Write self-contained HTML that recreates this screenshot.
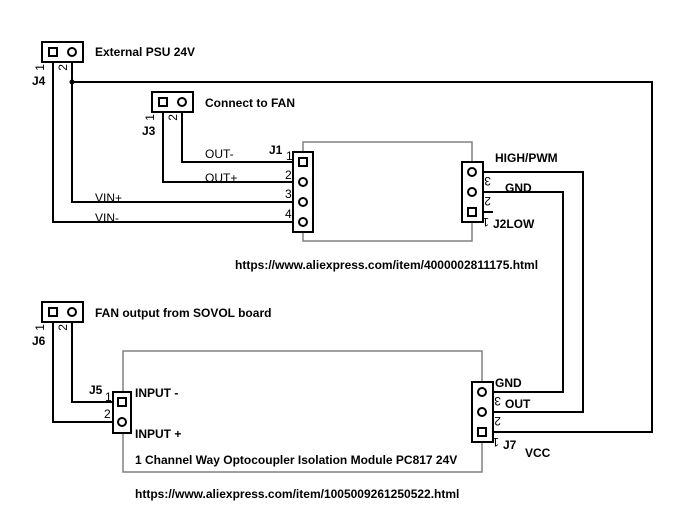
<!DOCTYPE html>
<html><head><meta charset="utf-8"><style>
body{margin:0;background:#fff}
svg{display:block}
text{font-family:"Liberation Sans",Arial,sans-serif;font-size:12px;fill:#000}
.b{font-weight:bold}
</style></head><body>
<svg width="676" height="519" viewBox="0 0 676 519" xmlns="http://www.w3.org/2000/svg">
<g fill="none" stroke="#808080" stroke-width="1.5">
<rect x="303" y="142" width="169" height="99"/>
<rect x="123" y="351" width="359" height="121"/>
</g>
<g fill="none" stroke="#000" stroke-width="2">
<polyline points="53,52 53,222 303,222"/>
<polyline points="72,52 72,202 303,202"/>
<polyline points="72,82 652,82 652,432 482,432"/>
<polyline points="182,102 182,162 303,162"/>
<polyline points="163,102 163,182 303,182"/>
<polyline points="472,172 583,172 583,412 482,412"/>
<polyline points="472,192 563,192 563,392 482,392"/>
<line x1="472" y1="212" x2="493" y2="212"/>
<polyline points="72,312 72,402 122,402"/>
<polyline points="53,312 53,422 122,422"/>
</g>
<g fill="#fff" stroke="#000" stroke-width="2">
<rect x="42" y="42" width="41" height="20"/>
<rect x="152" y="92" width="41" height="20"/>
<rect x="42" y="302" width="41" height="20"/>
<rect x="293" y="152" width="20" height="80"/>
<rect x="462" y="162" width="21" height="60"/>
<rect x="113" y="392" width="18" height="41"/>
<rect x="472" y="382" width="21" height="60"/>
<rect x="49" y="48" width="8" height="8"/><circle cx="72" cy="52" r="4"/>
<rect x="159" y="98" width="8" height="8"/><circle cx="182" cy="102" r="4"/>
<rect x="49" y="308" width="8" height="8"/><circle cx="72" cy="312" r="4"/>
<rect x="299" y="158" width="8" height="8"/><circle cx="303" cy="182" r="4"/><circle cx="303" cy="202" r="4"/><circle cx="303" cy="222" r="4"/>
<circle cx="472" cy="172" r="4"/><circle cx="472" cy="192" r="4"/><rect x="468" y="208" width="8" height="8"/>
<rect x="118" y="398" width="8" height="8"/><circle cx="122" cy="422" r="4"/>
<circle cx="482" cy="392" r="4"/><circle cx="482" cy="412" r="4"/><rect x="478" y="428" width="8" height="8"/>
</g>
<circle cx="72" cy="82" r="2.5" fill="#000"/>
<g>
<text x="95" y="56" class="b">External PSU 24V</text>
<text x="205" y="107" class="b">Connect to FAN</text>
<text x="32" y="85" class="b">J4</text>
<text x="142" y="135" class="b">J3</text>
<text x="32" y="345" class="b">J6</text>
<text x="95" y="317" class="b">FAN output from SOVOL board</text>
<text x="205" y="158">OUT-</text>
<text x="205" y="182">OUT+</text>
<text x="95" y="202">VIN+</text>
<text x="95" y="222">VIN-</text>
<text x="269" y="154" class="b">J1</text>
<text x="286" y="160" font-size="11">1</text>
<text x="285" y="179">2</text>
<text x="285" y="198">3</text>
<text x="285" y="218">4</text>
<text x="235" y="269" class="b">https://www.aliexpress.com/item/4000002811175.html</text>
<text x="495" y="162" class="b">HIGH/PWM</text>
<text x="505" y="192" class="b">GND</text>
<text x="493" y="228" class="b">J2LOW</text>
<text x="89" y="394" class="b">J5</text>
<text x="105" y="401" font-size="11">1</text>
<text x="104" y="418">2</text>
<text x="135" y="397" class="b">INPUT -</text>
<text x="135" y="438" class="b">INPUT +</text>
<text x="495" y="387" class="b">GND</text>
<text x="505" y="408" class="b">OUT</text>
<text x="503" y="449" class="b">J7</text>
<text x="525" y="457" class="b">VCC</text>
<text x="135" y="464" class="b">1 Channel Way Optocoupler Isolation Module PC817 24V</text>
<text x="135" y="498" class="b">https://www.aliexpress.com/item/1005009261250522.html</text>
</g>
<g font-size="10">
<text transform="translate(44,64) rotate(-90)" text-anchor="end">1</text>
<text transform="translate(67,64) rotate(-90)" text-anchor="end">2</text>
<text transform="translate(154,114) rotate(-90)" text-anchor="end">1</text>
<text transform="translate(177,114) rotate(-90)" text-anchor="end">2</text>
<text transform="translate(44,324) rotate(-90)" text-anchor="end">1</text>
<text transform="translate(67,324) rotate(-90)" text-anchor="end">2</text>
<text transform="translate(491,177) rotate(180)">3</text>
<text transform="translate(491,197) rotate(180)">2</text>
<text transform="translate(489,218) rotate(180)">1</text>
<text transform="translate(501,397) rotate(180)">3</text>
<text transform="translate(501,417) rotate(180)">2</text>
<text transform="translate(499,438) rotate(180)">1</text>
</g>
</svg>
</body></html>
